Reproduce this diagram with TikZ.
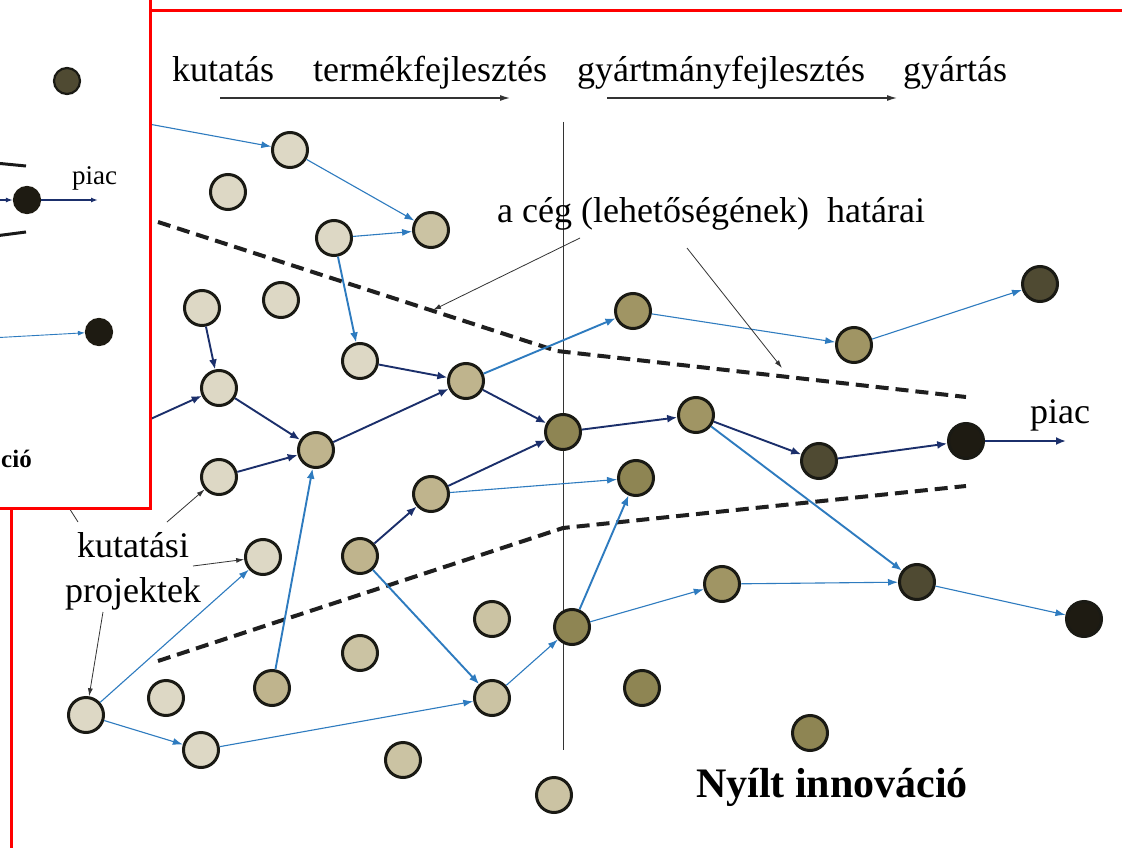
\documentclass[tikz,border=0pt]{standalone}
\usepackage{fontspec}
\setmainfont{Liberation Serif}
\usetikzlibrary{arrows.meta}

% node fills, from pale beige to almost black
\definecolor{ndL}{HTML}{DDD8C5}
\definecolor{ndT}{HTML}{CBC3A3}
\definecolor{ndM}{HTML}{BFB48D}
\definecolor{ndO}{HTML}{8E8553}
\definecolor{ndP}{HTML}{A09564}
\definecolor{ndD}{HTML}{4F4A32}
\definecolor{ndK}{HTML}{1E1B12}
\definecolor{outl}{HTML}{1A1A14}
\definecolor{navy}{HTML}{1B2F6B}
\definecolor{blu}{HTML}{2E7BBF}
\definecolor{frame}{HTML}{FF0000}

\tikzset{
  proj/.style={circle, draw=outl, line width=3pt, minimum size=35pt, inner sep=0pt},
  pL/.style={proj, fill=ndL},
  pT/.style={proj, fill=ndT},
  pM/.style={proj, fill=ndM},
  pO/.style={proj, fill=ndO},
  pP/.style={proj, fill=ndP},
  pD/.style={proj, fill=ndD},
  pK/.style={proj, fill=ndK},
  sproj/.style={circle, draw=outl, line width=2.2pt, minimum size=26pt, inner sep=0pt},
  nv/.style={draw=navy, line width=1.9pt, -{Latex[length=10pt,width=8pt]}},
  bl/.style={draw=blu, line width=1.1pt, -{Latex[length=10pt,width=7pt]}},
  blm/.style={draw=blu, line width=1.9pt, -{Latex[length=10pt,width=8pt]}},
  bound/.style={draw=black!88, line width=4pt, dash pattern=on 13pt off 7pt},
  lead/.style={draw=black!80, line width=0.8pt, -{Latex[length=8pt,width=5pt]}},
  phase/.style={draw=black!80, line width=1.2pt, -{Latex[length=10pt,width=6pt]}},
  lbl/.style={inner sep=0pt, font=\fontsize{36}{44}\selectfont},
  slbl/.style={inner sep=0pt, font=\fontsize{27}{32}\selectfont},
}

\begin{document}
\begin{tikzpicture}[x=1pt, y=-1pt]
\useasboundingbox (0,0) rectangle (1122,848);
\clip (0,0) rectangle (1122,848);
\fill[white] (0,0) rectangle (1122,848);

% outer frame
\draw[frame, line width=3pt] (11,880) -- (11,11) -- (1150,11);

% phase labels and arrows
\node[lbl, anchor=base west] (tk) at (172,82) {kutatás};
\node[lbl, anchor=base west] (tt) at (313,82) {termékfejlesztés};
\node[lbl, anchor=base west] (tg) at (577,82) {gyártmányfejlesztés};
\node[lbl, anchor=base west] (tp) at (903,82) {gyártás};
\coordinate (pa1) at (220,98);
\coordinate (pa2) at (510,98);
\coordinate (pb1) at (607,98);
\coordinate (pb2) at (897,98);
\draw[phase] (pa1) -- (pa2);
\draw[phase] (pb1) -- (pb2);

% company boundary
\coordinate (vt) at (563,122);
\coordinate (vb) at (563,750);
\draw[black!80, line width=0.8pt] (vt) -- (vb);
\coordinate (u1) at (158,222);
\coordinate (u2) at (557,351);
\coordinate (u3) at (966,397);
\coordinate (l1) at (158,661);
\coordinate (l2) at (563,528);
\coordinate (l3) at (966,486);
\draw[bound] (u1) -- (u2) -- (u3);
\draw[bound] (l1) -- (l2) -- (l3);

% projects
\node[pL] (n1) at (290,150) {};
\node[pL] (n2) at (228,192) {};
\node[pT] (n3) at (431,230) {};
\node[pL] (n4) at (334,238) {};
\node[pL] (n5) at (202,308) {};
\node[pL] (n6) at (281,300) {};
\node[pL] (n7) at (360,361) {};
\node[pL] (n8) at (219,388) {};
\node[pM] (n9) at (466,381) {};
\node[pM] (n10) at (316,450) {};
\node[pO] (n11) at (563,432) {};
\node[pL] (n12) at (219,477) {};
\node[pM] (n13) at (431,494) {};
\node[pP] (n14) at (633,311) {};
\node[pP] (n15) at (854,345) {};
\node[pD] (n16) at (1040,284) {};
\node[pP] (n17) at (696,415) {};
\node[pO] (n18) at (636,478) {};
\node[pD] (n19) at (819,461) {};
\node[pK] (n20) at (966,441) {};
\node[pL] (n21) at (263,557) {};
\node[pM] (n22) at (360,556) {};
\node[pT] (n23) at (492,619) {};
\node[pT] (n24) at (360,653) {};
\node[pO] (n25) at (572,627) {};
\node[pP] (n26) at (722,584) {};
\node[pD] (n27) at (917,582) {};
\node[pK] (n28) at (1084,619) {};
\node[pL] (n29) at (166,698) {};
\node[pM] (n30) at (272,688) {};
\node[pT] (n31) at (492,698) {};
\node[pO] (n32) at (642,688) {};
\node[pL] (n33) at (86,715) {};
\node[pL] (n34) at (201,750) {};
\node[pT] (n35) at (403,760) {};
\node[pT] (n36) at (554,795) {};
\node[pO] (n37) at (810,733) {};

% project flows
\coordinate (inA) at (40,104);
\coordinate (inF) at (60,460);
\draw[bl] (inA) -- (n1);
\draw[bl] (n1) -- (n3);
\draw[bl] (n4) -- (n3);
\draw[blm] (n4) -- (n7);
\draw[nv] (n5) -- (n8);
\draw[nv] (inF) -- (n8);
\draw[nv] (n8) -- (n10);
\draw[nv] (n12) -- (n10);
\draw[nv] (n7) -- (n9);
\draw[nv] (n10) -- (n9);
\draw[nv] (n9) -- (n11);
\draw[blm] (n9) -- (n14);
\draw[nv] (n13) -- (n11);
\draw[bl] (n13) -- (n18);
\draw[nv] (n22) -- (n13);
\draw[blm] (n30) -- (n10);
\draw[blm] (n22) -- (n31);
\draw[bl] (n33) -- (n21);
\draw[bl] (n33) -- (n34);
\draw[bl] (n34) -- (n31);
\draw[bl] (n31) -- (n25);
\draw[blm] (n25) -- (n18);
\draw[bl] (n25) -- (n26);
\draw[bl] (n26) -- (n27);
\draw[bl] (n27) -- (n28);
\draw[blm] (n17) -- (n27);
\draw[nv] (n11) -- (n17);
\draw[nv] (n17) -- (n19);
\draw[nv] (n19) -- (n20);
\draw[bl] (n14) -- (n15);
\draw[bl] (n15) -- (n16);
\coordinate (mkt) at (1066,441);
\draw[nv] (n20) -- (mkt);
\node[lbl, anchor=base] (piac) at (1060,423) {piac};

% boundary caption
\node[lbl, anchor=base west] (hat) at (497,222) {a cég (lehetőségének)\hspace{0.25em} határai};
\coordinate (h1) at (580,238);
\coordinate (h1e) at (433,310);
\coordinate (h2) at (687,248);
\coordinate (h2e) at (782,368);
\draw[lead] (h1) -- (h1e);
\draw[lead] (h2) -- (h2e);

% research projects caption
\node[lbl, anchor=base] (kp1) at (133,557) {kutatási};
\node[lbl, anchor=base] (kp2) at (133,602) {projektek};
\coordinate (k1) at (167,522);
\coordinate (k2) at (193,566);
\coordinate (k3) at (103,612);
\coordinate (k4) at (78,522);
\coordinate (k4e) at (45,470);
\draw[lead] (k1) -- (n12);
\draw[lead] (k2) -- (n21);
\draw[lead] (k3) -- (n33);
\draw[black!80, line width=0.8pt] (k4) -- (k4e);

% title
\node[inner sep=0pt, anchor=base, font=\fontsize{42}{48}\selectfont\bfseries] (title) at (832,797) {Nyílt innováció};

% overlapping window
\fill[white] (-10,-10) rectangle (150,508);
\draw[frame, line width=3pt] (-10,508) -- (150,508) -- (150,-10);
\coordinate (sd1) at (-5,163);
\coordinate (sd2) at (26,166);
\coordinate (sd3) at (-5,236);
\coordinate (sd4) at (26,232);
\draw[black!90, line width=3pt] (sd1) -- (sd2);
\draw[black!90, line width=3pt] (sd3) -- (sd4);
\node[sproj, fill=ndD] (s1) at (67,81) {};
\node[sproj, fill=ndK, draw=ndK] (s2) at (27,200) {};
\node[sproj, fill=ndK, draw=ndK] (s3) at (99,332) {};
\coordinate (sin1) at (-10,200);
\coordinate (sin2) at (-10,338);
\coordinate (smkt) at (98,200);
\draw[draw=navy, line width=1.4pt, -{Latex[length=7pt,width=5pt]}] (sin1) -- (s2);
\draw[draw=navy, line width=1.4pt, -{Latex[length=7pt,width=5pt]}] (s2) -- (smkt);
\draw[draw=blu, line width=0.9pt, -{Latex[length=7pt,width=5pt]}] (sin2) -- (s3);
\node[slbl, anchor=base west] (spiac) at (72,185) {piac};
\node[inner sep=0pt, anchor=base west, font=\fontsize{25}{30}\selectfont\bfseries] (scio) at (1,467) {ció};
\end{tikzpicture}
\end{document}
